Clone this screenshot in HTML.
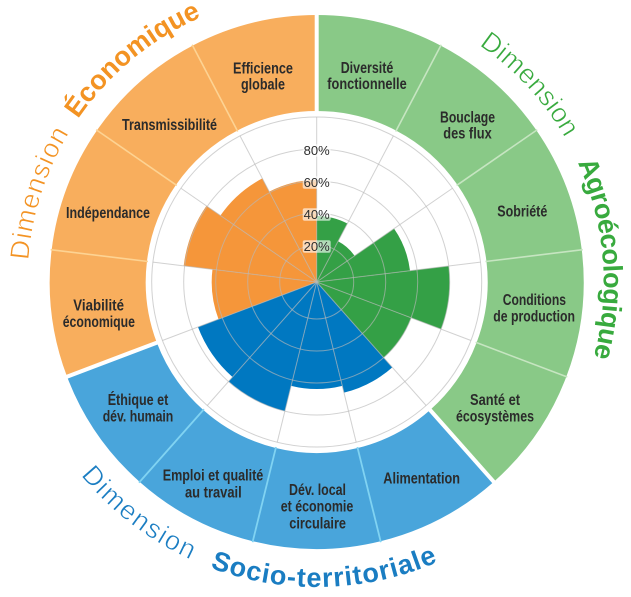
<!DOCTYPE html>
<html><head><meta charset="utf-8"><style>
html,body{margin:0;padding:0;background:#fff;}
svg{display:block;}
.lb{font-family:"Liberation Sans Narrow","Liberation Sans",sans-serif;font-weight:bold;font-size:16px;fill:#2b2b2b;}
.pc{font-family:"Liberation Sans",sans-serif;font-size:13px;fill:#2e2e2e;}
.dm{font-family:"Liberation Sans",sans-serif;font-size:27px;}
.thin{stroke:#fff;stroke-width:0.6px;}
</style></head><body>
<svg width="631" height="597" viewBox="0 0 631 597" xmlns="http://www.w3.org/2000/svg">
<rect width="631" height="597" fill="#fff"/>
<defs>
<path id="band" d="M0,-171 L0,-267 A267,267 0 0 1 124.08,-236.42 L79.47,-151.41 A171,171 0 0 0 0,-171 Z"/>
<path id="po" d="M-287.9,25.19 A289,289 0 0 1 -74.80,-279.15"/>
<path id="pg" d="M121.29,-260.11 A287,287 0 0 1 260.11,121.29"/>
<path id="pb" d="M-264.14,152.5 A305,305 0 0 0 174.94,249.84"/>
</defs>
<g transform="translate(316.7,282)">
<!-- outer band -->
<g fill="#89C987">
<use href="#band" transform="rotate(0)"/>
<use href="#band" transform="rotate(27.6923)"/>
<use href="#band" transform="rotate(55.3846)"/>
<use href="#band" transform="rotate(83.0769)"/>
<use href="#band" transform="rotate(110.7692)"/>
</g>
<g fill="#49A5DB">
<use href="#band" transform="rotate(138.4615)"/>
<use href="#band" transform="rotate(166.1538)"/>
<use href="#band" transform="rotate(193.8462)"/>
<use href="#band" transform="rotate(221.5385)"/>
</g>
<g fill="#F8AE5D">
<use href="#band" transform="rotate(249.2308)"/>
<use href="#band" transform="rotate(276.9231)"/>
<use href="#band" transform="rotate(304.6154)"/>
<use href="#band" transform="rotate(332.3077)"/>
</g>
<!-- band separators -->
<g stroke="#C6E5C1" stroke-width="1.6">
<line x1="0" y1="-170" x2="0" y2="-268" transform="rotate(27.6923)"/>
<line x1="0" y1="-170" x2="0" y2="-268" transform="rotate(55.3846)"/>
<line x1="0" y1="-170" x2="0" y2="-268" transform="rotate(83.0769)"/>
<line x1="0" y1="-170" x2="0" y2="-268" transform="rotate(110.7692)"/>
</g>
<g stroke="#80D3F2" stroke-width="1.8">
<line x1="0" y1="-170" x2="0" y2="-268" transform="rotate(166.1538)"/>
<line x1="0" y1="-170" x2="0" y2="-268" transform="rotate(193.8462)"/>
<line x1="0" y1="-170" x2="0" y2="-268" transform="rotate(221.5385)"/>
</g>
<g stroke="#FDD393" stroke-width="1.6">
<line x1="0" y1="-170" x2="0" y2="-268" transform="rotate(276.9231)"/>
<line x1="0" y1="-170" x2="0" y2="-268" transform="rotate(304.6154)"/>
<line x1="0" y1="-170" x2="0" y2="-268" transform="rotate(332.3077)"/>
</g>
<g stroke="#fff" stroke-width="4">
<line x1="0" y1="-168" x2="0" y2="-270" transform="rotate(0)"/>
<line x1="0" y1="-168" x2="0" y2="-270" transform="rotate(138.4615)"/>
<line x1="0" y1="-168" x2="0" y2="-270" transform="rotate(249.2308)"/>
</g>
<!-- bars -->
<g fill="#34A046">
<path d="M0,0 L0,-66 A66,66 0 0 1 30.67,-58.44 Z" transform="rotate(0)"/>
<path d="M0,0 L0,-46 A46,46 0 0 1 21.38,-40.73 Z" transform="rotate(27.6923)"/>
<path d="M0,0 L0,-94 A94,94 0 0 1 43.68,-83.23 Z" transform="rotate(55.3846)"/>
<path d="M0,0 L0,-133 A133,133 0 0 1 61.81,-117.77 Z" transform="rotate(83.0769)"/>
<path d="M0,0 L0,-101 A101,101 0 0 1 46.94,-89.43 Z" transform="rotate(110.7692)"/>
</g>
<g fill="#0078C1">
<path d="M0,0 L0,-114 A114,114 0 0 1 52.98,-100.94 Z" transform="rotate(138.4615)"/>
<path d="M0,0 L0,-107 A107,107 0 0 1 49.73,-94.74 Z" transform="rotate(166.1538)"/>
<path d="M0,0 L0,-133 A133,133 0 0 1 61.81,-117.77 Z" transform="rotate(193.8462)"/>
<path d="M0,0 L0,-127 A127,127 0 0 1 59.02,-112.45 Z" transform="rotate(221.5385)"/>
</g>
<g fill="#F5963A">
<path d="M0,0 L0,-105 A105,105 0 0 1 48.80,-92.97 Z" transform="rotate(249.2308)"/>
<path d="M0,0 L0,-134 A134,134 0 0 1 62.27,-118.65 Z" transform="rotate(276.9231)"/>
<path d="M0,0 L0,-117 A117,117 0 0 1 54.37,-103.60 Z" transform="rotate(304.6154)"/>
<path d="M0,0 L0,-102 A102,102 0 0 1 47.40,-90.32 Z" transform="rotate(332.3077)"/>
</g>
<!-- grid -->
<g fill="none" stroke="#b8b8b8" stroke-opacity="0.65" stroke-width="1">
<circle r="37"/><circle r="69"/><circle r="101"/><circle r="133"/><circle r="165"/>
<line x1="0" y1="0" x2="0" y2="-165" transform="rotate(0)"/>
<line x1="0" y1="0" x2="0" y2="-165" transform="rotate(27.6923)"/>
<line x1="0" y1="0" x2="0" y2="-165" transform="rotate(55.3846)"/>
<line x1="0" y1="0" x2="0" y2="-165" transform="rotate(83.0769)"/>
<line x1="0" y1="0" x2="0" y2="-165" transform="rotate(110.7692)"/>
<line x1="0" y1="0" x2="0" y2="-165" transform="rotate(138.4615)"/>
<line x1="0" y1="0" x2="0" y2="-165" transform="rotate(166.1538)"/>
<line x1="0" y1="0" x2="0" y2="-165" transform="rotate(193.8462)"/>
<line x1="0" y1="0" x2="0" y2="-165" transform="rotate(221.5385)"/>
<line x1="0" y1="0" x2="0" y2="-165" transform="rotate(249.2308)"/>
<line x1="0" y1="0" x2="0" y2="-165" transform="rotate(276.9231)"/>
<line x1="0" y1="0" x2="0" y2="-165" transform="rotate(304.6154)"/>
<line x1="0" y1="0" x2="0" y2="-165" transform="rotate(332.3077)"/>
</g>
<!-- dimension titles -->
<text class="dm thin" fill="#F39323" letter-spacing="0.9"><textPath href="#po" startOffset="46.9">Dimension</textPath></text>
<text class="dm" fill="#F39323" font-weight="bold"><textPath href="#po" startOffset="198.2">Économique</textPath></text>
<text class="dm thin" fill="#38AA3E"><textPath href="#pg" startOffset="47.1">Dimension</textPath></text>
<text class="dm" fill="#38AA3E" font-weight="bold" letter-spacing="-0.5"><textPath href="#pg" startOffset="202.4">Agroécologique</textPath></text>
<text class="dm thin" fill="#1A7DC2" letter-spacing="1.5"><textPath href="#pb" startOffset="49.5">Dimension</textPath></text>
<text class="dm" fill="#1A7DC2" font-weight="bold" font-size="28" letter-spacing="1.0"><textPath href="#pb" startOffset="210.3">Socio-territoriale</textPath></text>
</g>
<!-- percent labels -->
<g fill="#fff" fill-opacity="0.62">
<rect x="302.7" y="144.2" width="28" height="12.5" rx="2"/>
<rect x="302.7" y="176.2" width="28" height="12.5" rx="2"/>
<rect x="302.7" y="208.2" width="28" height="12.5" rx="2"/>
<rect x="302.7" y="240.2" width="28" height="12.5" rx="2"/>
</g>
<g class="pc" text-anchor="middle">
<text x="316.7" y="155">80%</text>
<text x="316.7" y="187">60%</text>
<text x="316.7" y="219">40%</text>
<text x="316.7" y="251">20%</text>
</g>
<!-- band labels -->
<g class="lb">
<text x="233" y="73.5" textLength="60" lengthAdjust="spacingAndGlyphs">Efficience</text>
<text x="241" y="89.5" textLength="44" lengthAdjust="spacingAndGlyphs">globale</text>
<text x="340.7" y="73" textLength="52.6" lengthAdjust="spacingAndGlyphs">Diversité</text>
<text x="327.3" y="89" textLength="79.4" lengthAdjust="spacingAndGlyphs">fonctionnelle</text>
<text x="440" y="122.5" textLength="55" lengthAdjust="spacingAndGlyphs">Bouclage</text>
<text x="443.3" y="138.5" textLength="48.4" lengthAdjust="spacingAndGlyphs">des flux</text>
<text x="497.3" y="216.5" textLength="50" lengthAdjust="spacingAndGlyphs">Sobriété</text>
<text x="502.7" y="305" textLength="63.3" lengthAdjust="spacingAndGlyphs">Conditions</text>
<text x="493.3" y="321.7" textLength="81.7" lengthAdjust="spacingAndGlyphs">de production</text>
<text x="470" y="405" textLength="50" lengthAdjust="spacingAndGlyphs">Santé et</text>
<text x="456" y="421.7" textLength="78" lengthAdjust="spacingAndGlyphs">écosystèmes</text>
<text x="383.3" y="483.3" textLength="76.7" lengthAdjust="spacingAndGlyphs">Alimentation</text>
<text x="289" y="495" textLength="57" lengthAdjust="spacingAndGlyphs">Dév. local</text>
<text x="280.7" y="511.7" textLength="72.6" lengthAdjust="spacingAndGlyphs">et économie</text>
<text x="289.3" y="528.3" textLength="56.7" lengthAdjust="spacingAndGlyphs">circulaire</text>
<text x="162.7" y="480.7" textLength="100.6" lengthAdjust="spacingAndGlyphs">Emploi et qualité</text>
<text x="185" y="497.3" textLength="56.7" lengthAdjust="spacingAndGlyphs">au travail</text>
<text x="107.7" y="405" textLength="60.6" lengthAdjust="spacingAndGlyphs">Éthique et</text>
<text x="102.7" y="421.7" textLength="70.6" lengthAdjust="spacingAndGlyphs">dév. humain</text>
<text x="73.3" y="310.7" textLength="50.7" lengthAdjust="spacingAndGlyphs">Viabilité</text>
<text x="62.7" y="327" textLength="72.3" lengthAdjust="spacingAndGlyphs">économique</text>
<text x="66" y="218" textLength="84" lengthAdjust="spacingAndGlyphs">Indépendance</text>
<text x="122" y="130" textLength="95" lengthAdjust="spacingAndGlyphs">Transmissibilité</text>
</g>
</svg>
</body></html>
